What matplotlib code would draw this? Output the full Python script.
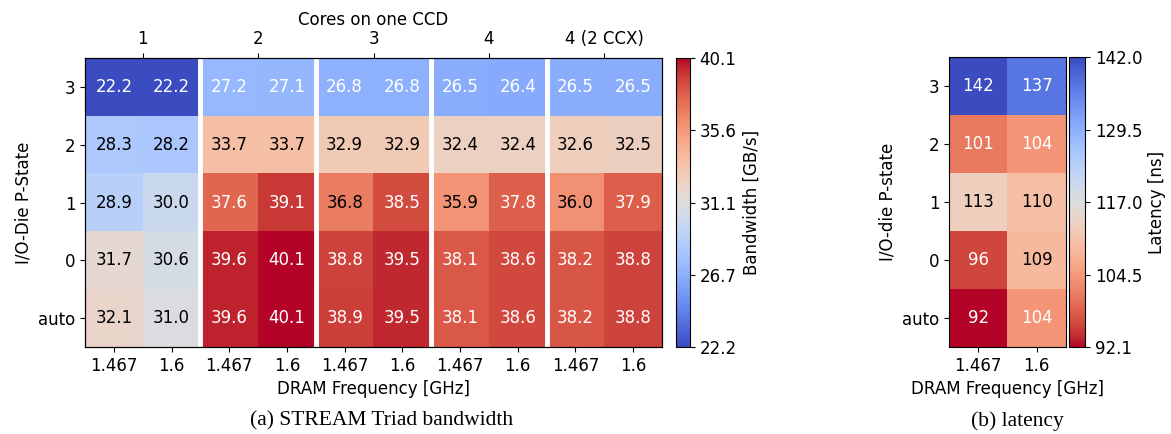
import numpy as np
import matplotlib
matplotlib.use("Agg")
import matplotlib.pyplot as plt

# STREAM Triad bandwidth [GB/s]; rows are I/O-die P-states, columns DRAM frequency per core group
pstates = ["3", "2", "1", "0", "auto"]
dram_freqs = ["1.467", "1.6"]
core_groups = ["1", "2", "3", "4", "4 (2 CCX)"]

bw_pstate_3 = [22.2, 22.2, 27.2, 27.1, 26.8, 26.8, 26.5, 26.4, 26.5, 26.5]
bw_pstate_2 = [28.3, 28.2, 33.7, 33.7, 32.9, 32.9, 32.4, 32.4, 32.6, 32.5]
bw_pstate_1 = [28.9, 30.0, 37.6, 39.1, 36.8, 38.5, 35.9, 37.8, 36.0, 37.9]
bw_pstate_0 = [31.7, 30.6, 39.6, 40.1, 38.8, 39.5, 38.1, 38.6, 38.2, 38.8]
bw_pstate_auto = [32.1, 31.0, 39.6, 40.1, 38.9, 39.5, 38.1, 38.6, 38.2, 38.8]

# Memory latency [ns]
lat_pstate_3 = [142.0, 137.0]
lat_pstate_2 = [101.0, 104.0]
lat_pstate_1 = [113.0, 110.0]
lat_pstate_0 = [96.0, 109.0]
lat_pstate_auto = [92.06, 104.0]

bw = np.array([bw_pstate_3, bw_pstate_2, bw_pstate_1, bw_pstate_0, bw_pstate_auto])
lat = np.array([lat_pstate_3, lat_pstate_2, lat_pstate_1, lat_pstate_0, lat_pstate_auto])

W, H = 1171, 434
fig = plt.figure(figsize=(W / 100, H / 100), dpi=100)
FS = 12


def px(x0, y0, x1, y1):
    return [x0 / W, 1 - y1 / H, (x1 - x0) / W, (y1 - y0) / H]


def annotate(ax, data, fmt, vmin, vmax):
    for i in range(data.shape[0]):
        for j in range(data.shape[1]):
            v = data[i, j]
            n = (v - vmin) / (vmax - vmin)
            color = "white" if (n < 0.3 or n > 0.83) else "black"
            ax.text(j, i, format(v, fmt), ha="center", va="center",
                    color=color, fontsize=FS)


# ---- (a) bandwidth heatmap ----
ax1 = fig.add_axes(px(85, 58, 662, 347))
bmin, bmax = bw.min(), bw.max()
im1 = ax1.imshow(bw, cmap="coolwarm", vmin=bmin, vmax=bmax, aspect="auto",
                 interpolation="nearest")
annotate(ax1, bw, ".1f", bmin, bmax)
for b in np.arange(1.5, bw.shape[1] - 1, 2):
    ax1.axvline(b, color="white", lw=3.5)
ax1.set_xticks(np.arange(bw.shape[1]))
ax1.set_xticklabels(dram_freqs * len(core_groups), fontsize=FS)
ax1.set_yticks(np.arange(len(pstates)))
ax1.set_yticklabels(pstates, fontsize=FS)
ax1.set_xlabel("DRAM Frequency [GHz]", fontsize=FS)
ax1.set_ylabel("I/O-Die P-State", fontsize=FS)

top = ax1.twiny()
top.set_xlim(ax1.get_xlim())
top.set_xticks(np.arange(0.5, bw.shape[1], 2))
top.set_xticklabels(core_groups, fontsize=FS)
top.set_xlabel("Cores on one CCD", fontsize=FS)

cax1 = fig.add_axes(px(676, 58, 690, 347))
cb1 = fig.colorbar(im1, cax=cax1)
t1 = np.linspace(bmin, bmax, 5)
cb1.set_ticks(t1)
cb1.set_ticklabels([f"{t:.1f}" for t in t1])
cb1.ax.tick_params(labelsize=FS)
cb1.set_label("Bandwidth [GB/s]", fontsize=FS)

# ---- (b) latency heatmap ----
ax2 = fig.add_axes(px(949, 57, 1066, 347))
lmin, lmax = lat.min(), lat.max()
im2 = ax2.imshow(lat, cmap="coolwarm_r", vmin=lmin, vmax=lmax, aspect="auto",
                 interpolation="nearest")
annotate(ax2, lat, ".0f", lmin, lmax)
ax2.set_xticks(np.arange(lat.shape[1]))
ax2.set_xticklabels(dram_freqs, fontsize=FS)
ax2.set_yticks(np.arange(len(pstates)))
ax2.set_yticklabels(pstates, fontsize=FS)
ax2.set_xlabel("DRAM Frequency [GHz]", fontsize=FS)
ax2.set_ylabel("I/O-die P-state", fontsize=FS)

cax2 = fig.add_axes(px(1069, 57, 1085, 347))
cb2 = fig.colorbar(im2, cax=cax2)
t2 = np.linspace(lmin, lmax, 5)
cb2.set_ticks(t2)
cb2.set_ticklabels([f"{t:.1f}" for t in t2])
cb2.ax.tick_params(labelsize=FS)
cb2.set_label("Latency [ns]", fontsize=FS)

# Sub-figure captions
fig.text(382 / W, 1 - 421 / H, "(a) STREAM Triad bandwidth", ha="center", va="center",
         family="Liberation Serif", fontsize=15.5)
fig.text(1017 / W, 1 - 421 / H, "(b) latency", ha="center", va="center",
         family="Liberation Serif", fontsize=15.5)

fig.savefig("out.png", dpi=100)
